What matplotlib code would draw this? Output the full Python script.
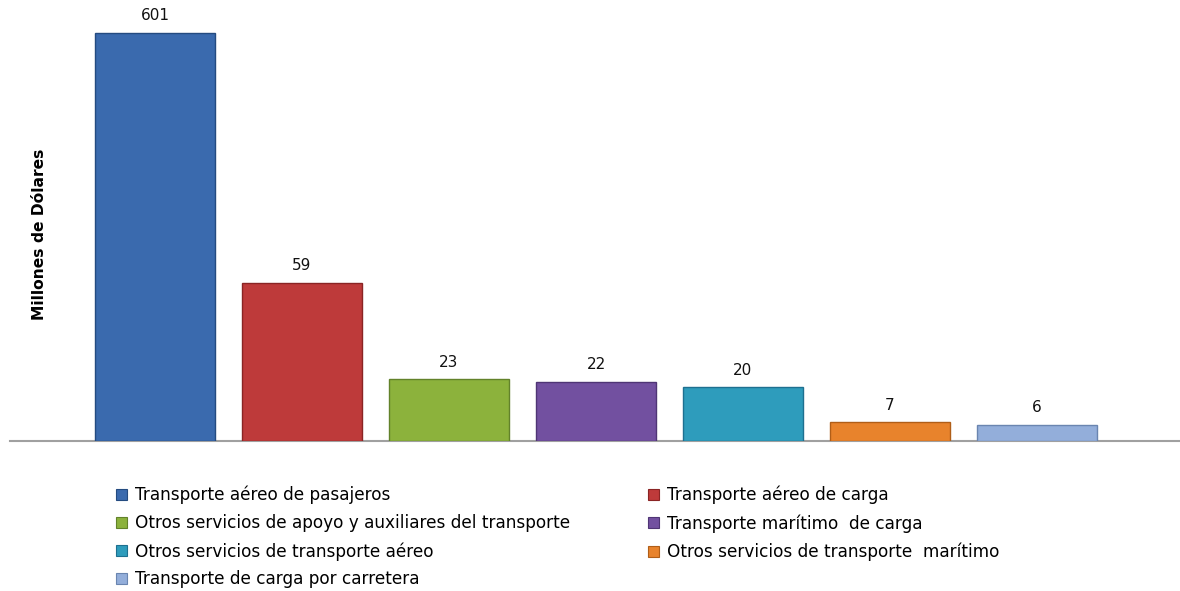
import numpy as np
import matplotlib
matplotlib.use("Agg")
import matplotlib.pyplot as plt
from matplotlib.patches import Patch

categories = [
    "Transporte aéreo de pasajeros",
    "Transporte aéreo de carga",
    "Otros servicios de apoyo y auxiliares del transporte",
    "Transporte marítimo  de carga",
    "Otros servicios de transporte aéreo",
    "Otros servicios de transporte  marítimo",
    "Transporte de carga por carretera",
]
values = [601, 59, 23, 22, 20, 7, 6]
colors = ["#3A6AAE", "#BE3A3A", "#8CB23C", "#7250A0", "#2E9CBC", "#E8832C", "#93AEDA"]
edges = ["#244B80", "#8A2424", "#62822A", "#4F3575", "#1E7090", "#B05E18", "#6A85B0"]
ylabel = "Millones de Dólares"

W, H = 1180, 591
fig = plt.figure(figsize=(W / 100, H / 100), dpi=100)
ax = fig.add_axes([10 / W, (H - 441) / H, 1170 / W, 431 / H])

# broken (compressed) scale above 60
T, K = 60.0, 0.1705
def fwd(v):
    v = np.asarray(v, dtype=float)
    return np.where(v <= T, v, T + (v - T) * K)
def inv(u):
    u = np.asarray(u, dtype=float)
    return np.where(u <= T, u, T + (u - T) / K)
ax.set_yscale("function", functions=(fwd, inv))

x = np.arange(len(values))
bars = ax.bar(x, values, width=0.815, color=colors, edgecolor=edges, linewidth=1.0, zorder=3)
for xi, v in zip(x, values):
    ax.annotate(str(v), (xi, v), xytext=(0, 7), textcoords="offset points",
                ha="center", va="bottom", fontsize=11, family="DejaVu Sans", color="#111111")

ax.set_xlim((10 - 155) / 147, (1180 - 155) / 147)
ax.set_ylim(0, 651)
for s in ["top", "right", "left"]:
    ax.spines[s].set_visible(False)
ax.spines["bottom"].set_color("#A0A0A0")
ax.spines["bottom"].set_linewidth(1.5)
ax.set_xticks([])
ax.set_yticks([])
ax.yaxis.set_minor_locator(matplotlib.ticker.NullLocator())

fig.text(40 / W, 1 - 234 / H, ylabel, rotation=90, ha="center", va="center",
         fontsize=11.2, fontweight="bold", family=["DejaVu Sans"])

handles = [Patch(facecolor=c, edgecolor=e, linewidth=0.8) for c, e in zip(colors, edges)]
left_idx = [0, 2, 4, 6]
right_idx = [1, 3, 5]
common = dict(frameon=False, handlelength=0.62, handleheight=0.62,
              handletextpad=0.5, labelspacing=0.58, borderaxespad=0, borderpad=0,
              loc="upper left", prop={"family": "DejaVu Sans", "size": 12.2})
leg1 = fig.legend([handles[i] for i in left_idx], [categories[i] for i in left_idx],
                  bbox_to_anchor=(116 / W, 1 - 486 / H), **common)
leg2 = fig.legend([handles[i] for i in right_idx], [categories[i] for i in right_idx],
                  bbox_to_anchor=(648 / W, 1 - 486 / H), **common)

fig.savefig("out.png", dpi=100, facecolor="white")
